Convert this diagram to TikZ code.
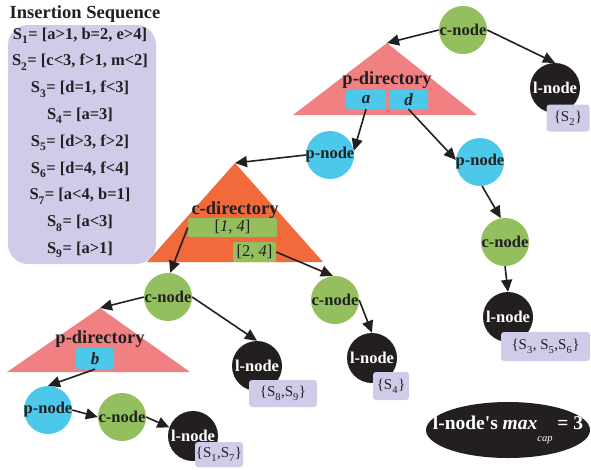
\documentclass[tikz,border=0pt]{standalone}
\usepackage{fontspec}
\setmainfont{Liberation Serif}
\usetikzlibrary{arrows.meta,shapes.geometric}

\definecolor{cgreen}{RGB}{148,191,94}
\definecolor{pblue}{RGB}{76,200,234}
\definecolor{dpink}{RGB}{241,128,130}
\definecolor{dorange}{RGB}{240,106,60}
\definecolor{lav}{RGB}{206,204,232}
\definecolor{ink}{RGB}{35,31,32}

% zero-width text so a circle keeps its own minimum size
\newcommand{\zw}[1]{\makebox[0pt]{#1}}
% low-set subscript index
\newcommand{\dn}[1]{\textsubscript{\raisebox{-0.35ex}{#1}}}

\tikzset{
  treenode/.style={circle, inner sep=0pt, minimum size=48pt,
    font=\bfseries\fontsize{16.5}{16.5}\selectfont},
  cnode/.style={treenode, fill=cgreen, text=ink},
  pnode/.style={treenode, fill=pblue, text=ink},
  lnode/.style={treenode, fill=ink, text=white, minimum size=50pt},
  setbox/.style={fill=lav, rounded corners=3pt, inner sep=0pt, text=ink,
    font=\fontsize{15}{15}\selectfont},
  keybox/.style={fill=pblue, rounded corners=2pt, inner sep=0pt, text=ink,
    minimum height=19pt, font=\bfseries\itshape\fontsize{17}{17}\selectfont},
  rangebox/.style={fill=cgreen, rounded corners=2pt, inner sep=0pt, text=ink,
    font=\fontsize{16.5}{16.5}\selectfont},
  dirlabel/.style={font=\bfseries\fontsize{18.5}{18.5}\selectfont, text=ink, inner sep=0pt},
  seqline/.style={anchor=base, inner sep=0pt, text=ink,
    font=\bfseries\fontsize{16.5}{16.5}\selectfont},
  link/.style={draw=ink, line width=1.6pt, -{Triangle[length=12pt,width=11pt]}},
}

\begin{document}
\begin{tikzpicture}[x=1pt, y=-1pt]
\useasboundingbox (0,0) rectangle (591,469);

% directory triangles
\fill[dpink] (387,43) -- (293,115) -- (477,115) -- cycle;
\fill[dorange] (235,163) -- (147,262) -- (323,262) -- cycle;
\fill[dpink] (100,308) -- (7,372) -- (190,372) -- cycle;
\coordinate (pdA) at (387,43);
\coordinate (cdA) at (235,163);
\coordinate (pdB) at (100,308);

% insertion sequence panel
\fill[lav, rounded corners=20pt] (8,25) rectangle (156,264);
\node[anchor=base, inner sep=0pt, text=ink, font=\bfseries\fontsize{18.5}{18.5}\selectfont]
  (title) at (85,18) {Insertion Sequence};
\node[seqline] (s1) at (80,39.0) {S\dn{1}= [a>1, b=2, e>4]};
\node[seqline] (s2) at (80,65.8) {S\dn{2}= [c<3, f>1, m<2]};
\node[seqline] (s3) at (80,92.6) {S\dn{3}= [d=1, f<3]};
\node[seqline] (s4) at (80,119.4) {S\dn{4}= [a=3]};
\node[seqline] (s5) at (80,146.2) {S\dn{5}= [d>3, f>2]};
\node[seqline] (s6) at (80,173.0) {S\dn{6}= [d=4, f<4]};
\node[seqline] (s7) at (80,199.8) {S\dn{7}= [a<4, b=1]};
\node[seqline] (s8) at (80,226.6) {S\dn{8}= [a<3]};
\node[seqline] (s9) at (80,253.4) {S\dn{9}= [a>1]};

% directory contents
\node[dirlabel] (pdtxtA) at (387,80) {p-directory};
\node[keybox, minimum width=40pt] (ka) at (366,99.5) {a};
\node[keybox, minimum width=39pt] (kd) at (408.5,99.5) {d};
\node[dirlabel] (cdtxt) at (235,210) {c-directory};
\node[rangebox, minimum width=89pt, minimum height=19pt] (r14) at (232.5,227.5) {[\textit{1}, \textit{4}]};
\node[rangebox, minimum width=43pt, minimum height=20pt] (r24) at (254.5,252) {[2, \textit{4}]};
\node[dirlabel] (pdtxtB) at (100,339) {p-directory};
\node[keybox, minimum width=38pt, minimum height=21pt] (kb) at (95,358.5) {b};

% tree nodes
\node[cnode] (c1) at (463,30) {\zw{c-node}};
\node[lnode] (l1) at (555,88) {\zw{l-node}};
\node[pnode] (p1) at (330,155) {\zw{p-node}};
\node[pnode] (p2) at (480,162) {\zw{p-node}};
\node[cnode] (c2) at (505,242) {\zw{c-node}};
\node[lnode] (l2) at (508,317) {\zw{l-node}};
\node[cnode] (c3) at (168,297) {\zw{c-node}};
\node[cnode] (c4) at (335,300) {\zw{c-node}};
\node[lnode] (l3) at (372,358) {\zw{l-node}};
\node[lnode] (l4) at (257,366) {\zw{l-node}};
\node[pnode] (p3) at (48,410) {\zw{p-node}};
\node[cnode] (c5) at (122,417) {\zw{c-node}};
\node[lnode] (l5) at (193,436) {\zw{l-node}};

% stored insertion sets
\node[setbox, minimum width=43pt, minimum height=27pt] (set2) at (568,118) {\{S\dn{2}\}};
\node[setbox, minimum width=89pt, minimum height=29pt] (set356) at (545.5,346.5) {\{S\dn{3}, S\dn{5},S\dn{6}\}};
\node[setbox, minimum width=36pt, minimum height=28pt] (set4) at (391,386) {\{S\dn{4}\}};
\node[setbox, minimum width=68pt, minimum height=27pt] (set89) at (283,393.5) {\{S\dn{8},S\dn{9}\}};
\node[setbox, minimum width=48pt, minimum height=25pt] (set17) at (219,454.5) {\{S\dn{1},S\dn{7}\}};

% connectors
\draw[link] (c1.west) -- (pdA);
\draw[link] (c1.east) -- (l1.north);
\draw[link] (ka.south) -- (p1.10);
\draw[link] (kd.south) -- (p2.175);
\draw[link] (p1.west) -- (cdA);
\draw[link] (p2.-85) -- (c2.100);
\draw[link] (c2.south) -- (l2.north);
\draw[link] (r14.west) -- (c3.85);
\draw[link] (r24.east) -- (c4.95);
\draw[link] (c4.east) -- (l3.north);
\draw[link] (c3.west) -- (pdB);
\draw[link] (c3.east) -- (l4.north);
\draw[link] (kb.south) -- (p3.north);
\draw[link] (p3.east) -- (c5.west);
\draw[link] (c5.east) -- (l5.160);

% capacity legend
\node[ellipse, fill=ink, text=white, inner sep=0pt, minimum width=164pt, minimum height=56pt,
  font=\bfseries\fontsize{19.5}{19.5}\selectfont] (legend) at (508,430)
  {\zw{l-node\textquotesingle s \textit{max}\raisebox{-1.3ex}{\mdseries\fontsize{10.5}{10.5}\selectfont\textit{cap}}\ = 3}};
\end{tikzpicture}
\end{document}
